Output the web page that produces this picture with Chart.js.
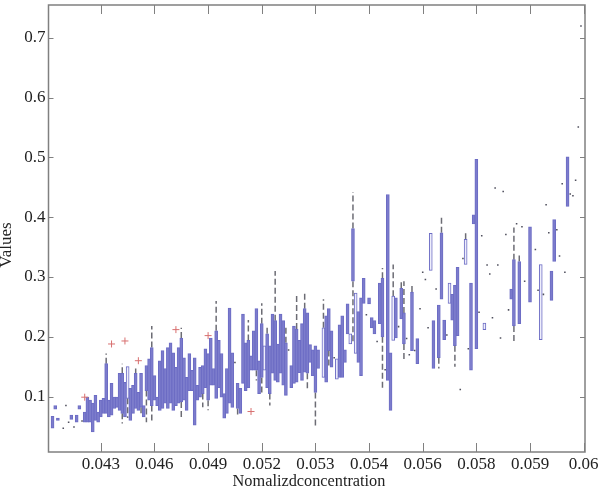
<!DOCTYPE html>
<html>
<head>
<meta charset="utf-8">
<style>
  html, body { margin: 0; padding: 0; background: #fff; }
  canvas { display: block; }
</style>
<script src="https://cdn.jsdelivr.net/npm/chart.js@4"></script>
</head>
<body>
<canvas id="boxChart" width="600" height="496"></canvas>
<script>
// values, one entry per group (1..200), null = no box
const boxHigh = [
  null, .067, .085, .064, null, null, null, null, .069, null,
  .069, .085, null, .074, .099, .094, .089, .102, .074, .094,
  .097, .155, .094, .122, .099, .099, .139, .139, .124, .150,
  .114, .119, .139, .107, .139, .085, .152, .163, .182, .135,
  .099, .160, .177, .147, .182, .190, .173, .149, .182, .198,
  .165, .132, .172, .144, .165, .119, .149, .152, .180, .172,
  .198, .147, .210, .194, .172, .105, .147, .248, .173, null,
  .122, .114, .238, .190, .194, .168, .210, .247, .160, .222,
  .185, .205, .185, .238, .227, .188, .238, .227, .190, null,
  .152, .218, .213, .194, .222, .247, .240, .187, .178, .185,
  .178, null, .215, .235, .247, .210, null, .163, .220, .235,
  .178, .255, .205, .381, .273, .242, .265, .298, null, .265,
  .232, .227, null, .290, .298, null, .438, .173, .268, .265,
  null, .281, .240, null, null, .275, null, .197, null, null,
  null, null, .373, .227, null, .253, .374, .228, null, .290,
  .271, .286, .316, null, null, .363, null, .290, .404, .497,
  null, null, .223, null, null, null, null, null, null, null,
  null, null, .280, .329, null, .326, null, null, null, .384,
  null, null, null, .321, null, null, null, .310, .396, null,
  null, null, null, .501, null, null, null, null, null, null
];
const boxLow = [
  null, .047, .079, .060, null, null, null, null, .062, null,
  .057, .079, null, .057, .057, .057, .041, .060, .057, .066,
  .072, .072, .066, .069, .080, .082, .077, .072, .066, .097,
  .060, .072, .080, .077, .082, .066, .110, .094, .085, .094,
  .085, .077, .080, .089, .080, .089, .077, .085, .089, .091,
  .094, .077, .110, .110, .052, .094, .099, .105, .115, .094,
  .119, .119, .097, .115, .099, .064, .072, .089, .082, null,
  .080, .072, .122, .110, .115, .144, .144, .144, .105, .132,
  .144, .115, .105, .139, .127, .124, .139, .119, .102, null,
  .115, .122, .124, .140, .127, .141, .139, .157, .135, .107,
  .147, null, .132, .124, .177, .149, null, .129, .132, .132,
  .157, .205, .188, .293, .172, .157, .135, .256, null, .255,
  .215, .205, null, .222, .200, null, .127, .077, .194, .198,
  null, .230, .188, null, null, .177, null, .155, null, null,
  null, null, .311, .147, null, .165, .263, .195, null, .256,
  .228, .185, .202, null, null, .321, null, .144, .389, .180,
  null, null, .212, null, null, null, null, null, null, null,
  null, null, .263, .218, null, .222, null, null, null, .258,
  null, null, null, .195, null, null, null, .261, .326, null,
  null, null, null, .418, null, null, null, null, null, null
];
const whiskerTopGroups = [22, 28, 33, 39, 50, 63, 75, 80, 82, 85, 89, 93, 96, 103, 114, 125, 129, 132, 133, 136, 147, 156, 174, 176];
const whiskerTopValues = [.172, .155, .147, .218, .215, .260, .228, .256, .220, .310, .220, .271, .273, .263, .442, .315, .321, .293, .293, .288, .404, .373, .383, .340];
const whiskerLowGroups = [28, 30, 35, 37, 39, 50, 58, 60, 71, 78, 80, 83, 97, 100, 105, 114, 125, 133, 146, 152, 174];
const whiskerLowValues = [.055, .064, .072, .057, .060, .065, .082, .077, .066, .127, .105, .085, .112, .047, .149, .188, .112, .160, .147, .150, .192];
// groups with a single sample show up as a short dash
const singleGroups = [6, 7, 8, 10, 13, 70, 90, 107, 119, 123, 126, 131, 134, 135, 137, 139, 140, 141, 142, 145, 149, 154, 155, 157, 161, 162, 164, 165, 166, 167, 168, 169, 170, 171, 172, 175, 177, 178, 182, 183, 185, 186, 187, 190, 191, 192, 193, 195, 196, 197, 198, 199];
const singleValues = [.047, .085, .057, .049, .059, .157, .178, .165, .237, .192, .145, .217, .197, .170, .177, .247, .308, .296, .215, .280, .203, .112, .331, .180, .241, .369, .320, .305, .232, .449, .320, .198, .443, .371, .245, .389, .384, .293, .346, .278, .271, .421, .374, .379, .335, .456, .308, .439, .436, .462, .551, .720];
const outlierGroups = [14, 24, 29, 34, 48, 60, 76];
const outlierValues = [.099, .188, .193, .160, .212, .202, .075];
const hollowGroups = [30, 81, 103, 108, 113, 115, 129, 143, 150, 156, 163, 184];
const xTickGroups = [20, 40, 60, 80, 100, 120, 140, 160, 180, 200];
const xTickLabels = ["0.043", "0.046", "0.049", "0.052", "0.053", "0.054", "0.056", "0.058", "0.059", "0.06"];
const yTickValues = [0.1, 0.2, 0.3, 0.4, 0.5, 0.6, 0.7];

const groupLabels = boxHigh.map((v, i) => String(i + 1));

// one line dataset with gaps, each whisker is a short vertical piece
function whiskerPoints() {
  const pts = [];
  whiskerTopGroups.forEach((g, i) => {
    pts.push({ x: String(g), y: boxHigh[g - 1] }, { x: String(g), y: whiskerTopValues[i] }, { x: String(g), y: null });
  });
  whiskerLowGroups.forEach((g, i) => {
    pts.push({ x: String(g), y: boxLow[g - 1] }, { x: String(g), y: whiskerLowValues[i] }, { x: String(g), y: null });
  });
  return pts;
}

// inward ticks on all four sides plus the closed frame
const framePlugin = {
  id: "frame",
  afterDraw(chart) {
    const { ctx, chartArea: a, scales } = chart;
    ctx.save();
    ctx.strokeStyle = "#808080";
    ctx.lineWidth = 1.5;
    ctx.strokeRect(a.left, a.top, a.right - a.left, a.bottom - a.top);
    ctx.lineWidth = 1;
    ctx.beginPath();
    scales.x.ticks.forEach((t, i) => {
      const px = Math.round(scales.x.getPixelForTick(i)) + 0.5;
      ctx.moveTo(px, a.bottom);
      ctx.lineTo(px, a.bottom - 9);
      ctx.moveTo(px, a.top);
      ctx.lineTo(px, a.top + 9);
    });
    scales.y.ticks.forEach((t, i) => {
      const py = Math.round(scales.y.getPixelForTick(i)) + 0.5;
      ctx.moveTo(a.left, py);
      ctx.lineTo(a.left + 5, py);
      ctx.moveTo(a.right, py);
      ctx.lineTo(a.right - 5, py);
    });
    ctx.stroke();

    // axis titles sit off the plot centre in the reference
    ctx.fillStyle = "#222";
    ctx.textAlign = "center";
    ctx.textBaseline = "middle";
    ctx.font = "16.3px 'Liberation Serif'";
    ctx.fillText("Nomalizdconcentration", 309, 482);
    ctx.translate(7, 245);
    ctx.rotate(-Math.PI / 2);
    ctx.font = "17px 'Liberation Serif'";
    ctx.fillText("Values", 0, 0);
    ctx.restore();
  },
};

new Chart(document.getElementById("boxChart"), {
  type: "bar",
  plugins: [framePlugin],
  data: {
    labels: groupLabels,
    datasets: [
      {
        label: "Whiskers",
        type: "line",
        data: whiskerPoints(),
        borderColor: "#6c6c74",
        borderWidth: 1.5,
        borderDash: [6, 3],
        pointRadius: 0,
        spanGaps: false,
        order: 3,
      },
      {
        label: "Boxes",
        data: boxHigh.map((v, i) => (v === null ? null : [boxLow[i], v])),
        backgroundColor: boxHigh.map((v, i) => (hollowGroups.includes(i + 1) ? "#eeeefb" : "#7c7ccc")),
        borderColor: "#6c6cc4",
        borderWidth: 1,
        borderSkipped: false,
        barThickness: 3,
        order: 2,
      },
      {
        label: "Single",
        type: "line",
        data: singleGroups.map((g, i) => ({ x: String(g), y: singleValues[i] })),
        showLine: false,
        pointStyle: "rect",
        pointRadius: 1.1,
        pointBorderWidth: 0,
        pointBackgroundColor: "#50505e",
        order: 1,
      },
      {
        label: "Outliers",
        type: "line",
        data: outlierGroups.map((g, i) => ({ x: String(g), y: outlierValues[i] })),
        showLine: false,
        pointStyle: "cross",
        pointRadius: 3.5,
        pointBorderColor: "#d87070",
        pointBorderWidth: 1,
        order: 0,
      },
    ],
  },
  options: {
    responsive: false,
    animation: false,
    layout: { padding: { top: 2, right: 15, left: 0, bottom: 0 } },
    plugins: { legend: { display: false }, tooltip: { enabled: false } },
    scales: {
      x: {
        grid: { display: false, drawTicks: false, tickLength: 0 },
        border: { display: false },
        afterBuildTicks(scale) {
          scale.ticks = xTickGroups.map((g) => ({ value: g - 1 }));
        },
        afterFit(scale) {
          scale.height = 44;
          scale.paddingLeft = 0;
          scale.paddingRight = 0;
        },
        ticks: {
          autoSkip: false,
          maxRotation: 0,
          padding: 2,
          color: "#222",
          font: { family: "Liberation Serif", size: 17 },
          callback: (value, index) => xTickLabels[index],
        },
      },
      y: {
        min: 0.0073,
        max: 0.755,
        grid: { display: false, drawTicks: false, tickLength: 0 },
        border: { display: false },
        afterBuildTicks(scale) {
          scale.ticks = yTickValues.map((v) => ({ value: v }));
        },
        afterFit(scale) {
          scale.width = 48.5;
          scale.paddingTop = 0;
          scale.paddingBottom = 0;
        },
        ticks: {
          padding: 3,
          color: "#222",
          font: { family: "Liberation Serif", size: 17 },
          callback: (value) => value.toFixed(1),
        },
      },
    },
  },
});
</script>
</body>
</html>
